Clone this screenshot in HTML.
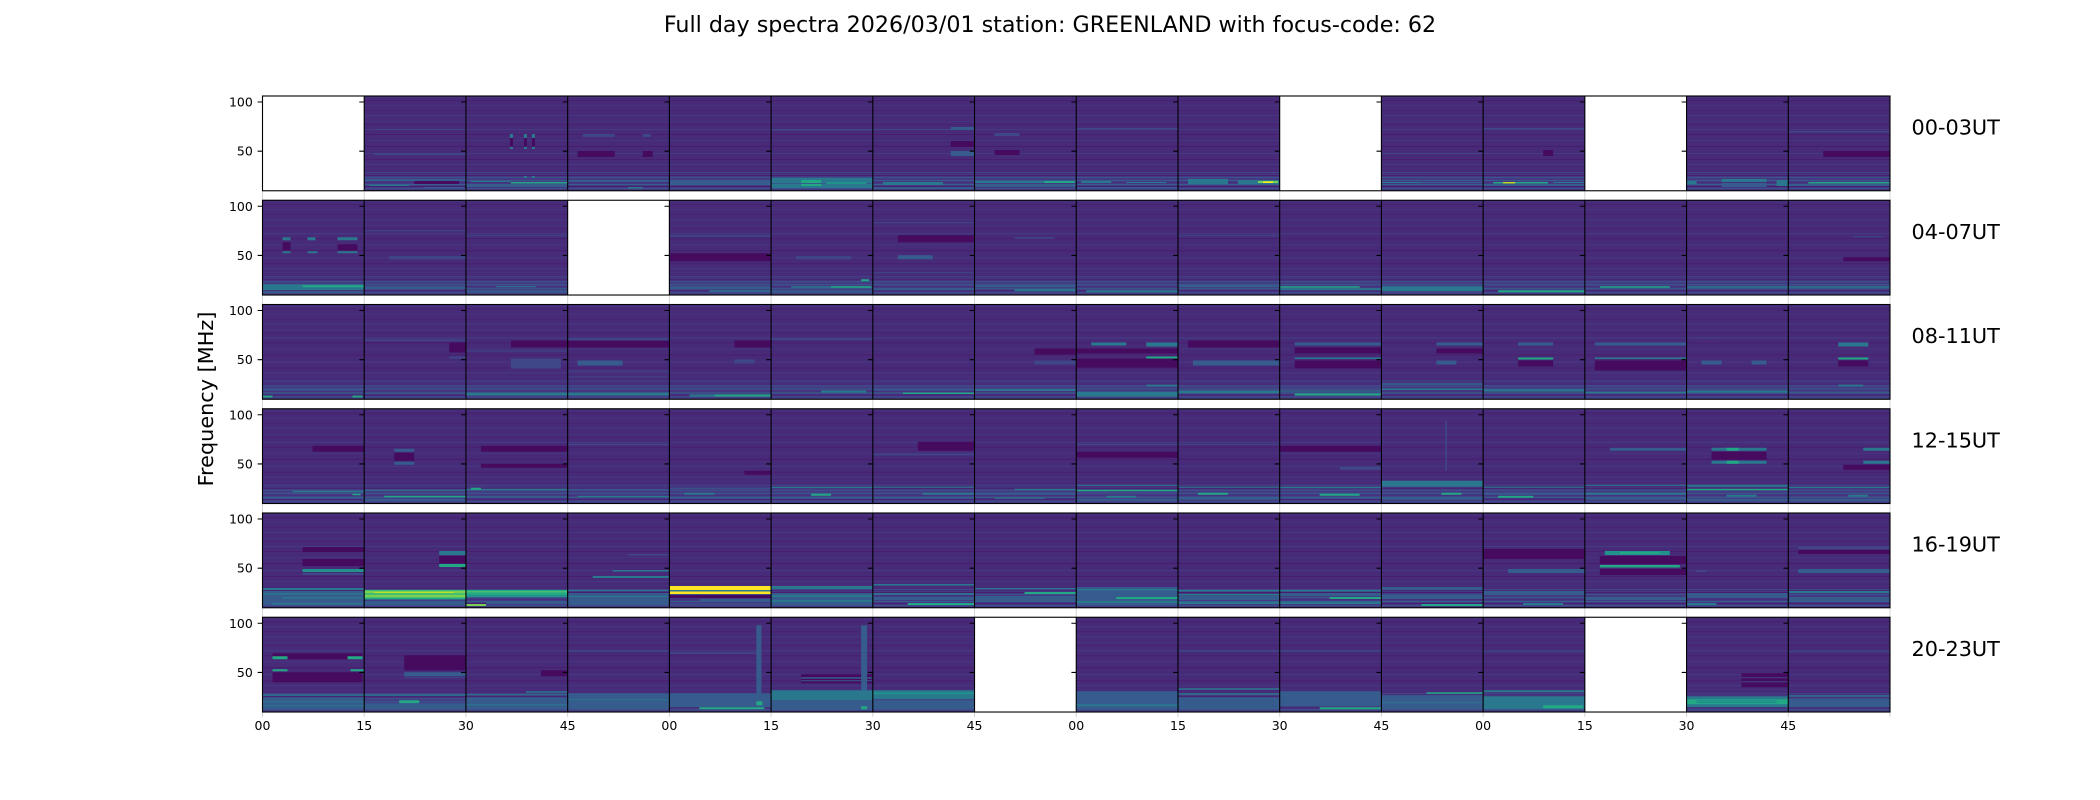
<!DOCTYPE html>
<html>
<head>
<meta charset="utf-8">
<style>
html,body{margin:0;padding:0;background:#fff;width:2100px;height:800px;overflow:hidden}
svg{display:block}
text{font-family:"DejaVu Sans","Liberation Sans",sans-serif;fill:#000}
.b{fill:url(#bg)}
.w{fill:#fff}
.d{fill:#460b5e}
.l{fill:#3f4788}
.m{fill:#365c8d}
.t{fill:#2a788e}
.u{fill:#21918c}
.v{fill:#22a884}
.g{fill:#44bf70}
.h{fill:#7ad151}
.y{fill:#bddf26}
.z{fill:#fde725}
</style>
</head>
<body>
<svg width="2100" height="800" viewBox="0 0 2100 800" xmlns="http://www.w3.org/2000/svg">
<defs>
<pattern id="bg" patternUnits="userSpaceOnUse" width="102" height="95">
<rect width="102" height="95" fill="#472b79"/>
<rect y="0" width="102" height="2" fill="#46307c"/>
<rect y="4" width="102" height="1" fill="#481f6f"/>
<rect y="9" width="102" height="1" fill="#45347f"/>
<rect y="14" width="102" height="1" fill="#482370"/>
<rect y="19" width="102" height="1" fill="#443882"/>
<rect y="25" width="102" height="1" fill="#45337f"/>
<rect y="28" width="102" height="1" fill="#48216f"/>
<rect y="33" width="102" height="1" fill="#433c84"/>
<rect y="38" width="102" height="1" fill="#481f6f"/>
<rect y="44" width="102" height="1" fill="#45347f"/>
<rect y="50" width="102" height="1" fill="#481c6d"/>
<rect y="57" width="102" height="1" fill="#443983"/>
<rect y="63" width="102" height="1" fill="#481f6f"/>
<rect y="68" width="102" height="1" fill="#443983"/>
<rect y="72" width="102" height="1" fill="#46307e"/>
<rect y="76" width="102" height="1" fill="#3f4788"/>
<rect y="78" width="102" height="17" fill="#443a83"/>
<rect y="79" width="102" height="1" fill="#481d6f"/>
<rect y="81" width="102" height="1" fill="#3b518b"/>
<rect y="84" width="102" height="1" fill="#38598c"/>
<rect y="86" width="102" height="1" fill="#46307e"/>
<rect y="88" width="102" height="1" fill="#35608d"/>
<rect y="90" width="102" height="1" fill="#481f70"/>
<rect y="92" width="102" height="1" fill="#3c4f8a"/>
</pattern>
</defs>

<text x="1050" y="32" font-size="22.2" text-anchor="middle">Full day spectra 2026/03/01 station: GREENLAND with focus-code: 62</text>
<text transform="translate(213,399) rotate(-90)" font-size="20.8" text-anchor="middle">Frequency [MHz]</text>

<!-- ROW 0 -->
<g transform="translate(262.5,96)"><rect class="w" width="101.72" height="94.77"/></g>
<g transform="translate(364.22,96)"><rect class="b" width="101.72" height="94.77"/>
<rect class="l" x="10" y="33" width="91" height="1"/><rect class="l" x="10" y="57" width="91" height="2"/>
<rect class="m" x="0" y="83" width="102" height="2"/><rect class="d" x="50" y="85" width="45" height="3"/><rect class="t" x="5" y="89" width="40" height="1"/><rect class="m" x="60" y="91" width="40" height="1"/></g>
<g transform="translate(465.94,96)"><rect class="b" width="101.72" height="94.77"/>
<rect class="d" x="44" y="42" width="3" height="8"/><rect class="d" x="58" y="42" width="3" height="8"/><rect class="d" x="66" y="42" width="3" height="8"/>
<rect class="t" x="44" y="38" width="3" height="4"/><rect class="t" x="58" y="38" width="3" height="4"/><rect class="t" x="66" y="38" width="3" height="4"/>
<rect class="t" x="44" y="51" width="3" height="2"/><rect class="t" x="58" y="51" width="3" height="2"/><rect class="t" x="66" y="51" width="3" height="2"/>
<rect class="t" x="58" y="80" width="3" height="2"/><rect class="t" x="66" y="80" width="3" height="2"/>
<rect class="v" x="45" y="86" width="57" height="1.5"/><rect class="t" x="5" y="85" width="40" height="1"/><rect class="m" x="0" y="89" width="102" height="2"/></g>
<g transform="translate(567.66,96)"><rect class="b" width="101.72" height="94.77"/>
<rect class="l" x="15" y="38" width="32" height="3"/><rect class="l" x="75" y="38" width="8" height="3"/>
<rect class="d" x="10" y="55" width="37" height="6"/><rect class="d" x="75" y="55" width="10" height="6"/>
<rect class="m" x="0" y="84" width="102" height="2"/><rect class="t" x="60" y="91" width="15" height="1.5"/></g>
<g transform="translate(669.38,96)"><rect class="b" width="101.72" height="94.77"/>
<rect class="m" x="0" y="85" width="102" height="3"/></g>
<g transform="translate(771.09,96)"><rect class="b" width="101.72" height="94.77"/>
<rect class="l" x="0" y="33" width="102" height="1.5"/>
<rect class="t" x="0" y="82" width="102" height="10"/><rect class="v" x="30" y="84" width="20" height="6"/><rect class="m" x="0" y="87" width="102" height="1"/><rect class="u" x="55" y="86" width="40" height="2"/></g>
<g transform="translate(872.81,96)"><rect class="b" width="101.72" height="94.77"/>
<rect class="l" x="0" y="33" width="80" height="1"/><rect class="m" x="78" y="31" width="24" height="3"/><rect class="m" x="78" y="55" width="24" height="5"/><rect class="d" x="78" y="45" width="24" height="6"/>
<rect class="t" x="10" y="86" width="60" height="3"/><rect class="m" x="0" y="91" width="102" height="2"/></g>
<g transform="translate(974.53,96)"><rect class="b" width="101.72" height="94.77"/>
<rect class="l" x="20" y="37" width="25" height="3"/><rect class="d" x="20" y="54" width="25" height="5"/>
<rect class="t" x="0" y="85" width="102" height="2"/><rect class="v" x="70" y="85" width="30" height="2"/><rect class="m" x="0" y="89" width="102" height="2"/></g>
<g transform="translate(1076.25,96)"><rect class="b" width="101.72" height="94.77"/>
<rect class="l" x="0" y="32" width="102" height="1.5"/>
<rect class="t" x="5" y="85" width="30" height="2"/><rect class="t" x="50" y="86" width="40" height="1"/><rect class="m" x="0" y="91" width="102" height="1"/></g>
<g transform="translate(1177.97,96)"><rect class="b" width="101.72" height="94.77"/>
<rect class="t" x="10" y="83" width="40" height="5"/><rect class="t" x="60" y="84" width="42" height="4"/><rect class="h" x="80" y="85" width="20" height="2"/><rect class="z" x="85" y="85.5" width="10" height="1.5"/></g>
<g transform="translate(1279.69,96)"><rect class="w" width="101.72" height="94.77"/></g>
<g transform="translate(1381.41,96)"><rect class="b" width="101.72" height="94.77"/>
<rect class="l" x="0" y="57" width="102" height="1"/>
<rect class="t" x="0" y="86" width="40" height="1"/><rect class="m" x="40" y="86" width="62" height="1"/></g>
<g transform="translate(1483.13,96)"><rect class="b" width="101.72" height="94.77"/>
<rect class="l" x="0" y="32" width="102" height="1.5"/><rect class="d" x="60" y="54" width="10" height="6"/>
<rect class="v" x="10" y="86" width="55" height="1.5"/><rect class="y" x="20" y="86" width="12" height="1.5"/><rect class="t" x="70" y="86" width="32" height="1"/><rect class="m" x="0" y="89" width="102" height="1"/></g>
<g transform="translate(1584.84,96)"><rect class="w" width="101.72" height="94.77"/></g>
<g transform="translate(1686.56,96)"><rect class="b" width="101.72" height="94.77"/>
<rect class="t" x="35" y="83" width="45" height="3"/><rect class="m" x="35" y="87" width="45" height="4"/><rect class="t" x="0" y="85" width="10" height="3"/><rect class="t" x="90" y="84" width="12" height="6"/></g>
<g transform="translate(1788.28,96)"><rect class="b" width="101.72" height="94.77"/>
<rect class="l" x="0" y="35" width="102" height="1.5"/><rect class="d" x="35" y="55" width="67" height="6"/>
<rect class="v" x="20" y="86" width="82" height="1.5"/><rect class="m" x="0" y="89" width="102" height="1"/></g>

<!-- ROW 1 -->
<g transform="translate(262.5,200.25)"><rect class="b" width="101.72" height="94.77"/>
<rect class="d" x="20" y="42" width="8" height="8"/><rect class="d" x="75" y="44" width="20" height="6"/>
<rect class="t" x="20" y="37" width="8" height="3"/><rect class="t" x="45" y="37" width="8" height="3"/><rect class="t" x="75" y="37" width="20" height="3"/>
<rect class="t" x="20" y="51" width="8" height="2"/><rect class="t" x="45" y="51" width="10" height="2"/><rect class="t" x="75" y="51" width="20" height="2"/>
<rect class="t" x="0" y="84" width="102" height="6"/><rect class="v" x="40" y="85" width="62" height="2"/><rect class="m" x="0" y="91" width="102" height="2"/></g>
<g transform="translate(364.22,200.25)"><rect class="b" width="101.72" height="94.77"/>
<rect class="l" x="0" y="30" width="102" height="1"/><rect class="l" x="25" y="56" width="77" height="3"/>
<rect class="m" x="0" y="86" width="102" height="3"/></g>
<g transform="translate(465.94,200.25)"><rect class="b" width="101.72" height="94.77"/>
<rect class="l" x="0" y="35" width="102" height="1"/>
<rect class="t" x="30" y="86" width="40" height="1"/><rect class="m" x="0" y="90" width="102" height="2"/></g>
<g transform="translate(567.66,200.25)"><rect class="w" width="101.72" height="94.77"/></g>
<g transform="translate(669.38,200.25)"><rect class="b" width="101.72" height="94.77"/>
<rect class="l" x="0" y="35" width="102" height="1.5"/><rect class="d" x="0" y="53" width="102" height="8"/>
<rect class="m" x="0" y="86" width="102" height="2"/><rect class="t" x="40" y="90" width="62" height="1.5"/></g>
<g transform="translate(771.09,200.25)"><rect class="b" width="101.72" height="94.77"/>
<rect class="l" x="25" y="56" width="55" height="3"/>
<rect class="t" x="20" y="86" width="82" height="1.5"/><rect class="v" x="60" y="86" width="40" height="1.5"/><rect class="v" x="90" y="79" width="8" height="2"/><rect class="m" x="0" y="90" width="102" height="2"/></g>
<g transform="translate(872.81,200.25)"><rect class="b" width="101.72" height="94.77"/>
<rect class="l" x="0" y="22" width="102" height="1"/><rect class="d" x="25" y="35" width="77" height="7"/><rect class="m" x="25" y="55" width="35" height="4"/><rect class="l" x="0" y="72" width="102" height="1"/>
<rect class="m" x="0" y="88" width="102" height="2"/></g>
<g transform="translate(974.53,200.25)"><rect class="b" width="101.72" height="94.77"/>
<rect class="l" x="40" y="37" width="40" height="1.5"/>
<rect class="m" x="0" y="85" width="102" height="2"/><rect class="t" x="40" y="89" width="62" height="2"/></g>
<g transform="translate(1076.25,200.25)"><rect class="b" width="101.72" height="94.77"/>
<rect class="t" x="10" y="90" width="92" height="2"/></g>
<g transform="translate(1177.97,200.25)"><rect class="b" width="101.72" height="94.77"/>
<rect class="l" x="0" y="35" width="102" height="1"/><rect class="m" x="0" y="84" width="102" height="3"/></g>
<g transform="translate(1279.69,200.25)"><rect class="b" width="101.72" height="94.77"/>
<rect class="v" x="0" y="86" width="80" height="1.5"/><rect class="t" x="0" y="88" width="102" height="2"/></g>
<g transform="translate(1381.41,200.25)"><rect class="b" width="101.72" height="94.77"/>
<rect class="t" x="0" y="86" width="102" height="5"/></g>
<g transform="translate(1483.13,200.25)"><rect class="b" width="101.72" height="94.77"/>
<rect class="v" x="15" y="90" width="87" height="2"/></g>
<g transform="translate(1584.84,200.25)"><rect class="b" width="101.72" height="94.77"/>
<rect class="v" x="15" y="86" width="70" height="1.5"/></g>
<g transform="translate(1686.56,200.25)"><rect class="b" width="101.72" height="94.77"/>
<rect class="t" x="0" y="86" width="102" height="1.5"/></g>
<g transform="translate(1788.28,200.25)"><rect class="b" width="101.72" height="94.77"/>
<rect class="d" x="55" y="57" width="47" height="4"/><rect class="l" x="65" y="36" width="30" height="1"/><rect class="t" x="0" y="86" width="102" height="1.5"/></g>

<!-- ROW 2 -->
<g transform="translate(262.5,304.5)"><rect class="b" width="101.72" height="94.77"/>
<rect class="m" x="0" y="85" width="102" height="1"/><rect class="v" x="0" y="91" width="10" height="2"/><rect class="v" x="90" y="91" width="10" height="2"/></g>
<g transform="translate(364.22,304.5)"><rect class="b" width="101.72" height="94.77"/>
<rect class="l" x="0" y="35" width="102" height="1.5"/><rect class="d" x="85" y="38" width="17" height="10"/><rect class="l" x="85" y="52" width="17" height="2"/>
<rect class="m" x="0" y="88" width="102" height="1.5"/></g>
<g transform="translate(465.94,304.5)"><rect class="b" width="101.72" height="94.77"/>
<rect class="d" x="45" y="36" width="57" height="7"/><rect class="l" x="45" y="54" width="50" height="10"/><rect class="l" x="0" y="46" width="102" height="1"/>
<rect class="t" x="0" y="88" width="102" height="3"/></g>
<g transform="translate(567.66,304.5)"><rect class="b" width="101.72" height="94.77"/>
<rect class="l" x="0" y="34" width="102" height="2"/><rect class="d" x="0" y="36" width="102" height="7"/><rect class="m" x="10" y="56" width="45" height="5"/><rect class="l" x="0" y="66" width="102" height="1"/><rect class="l" x="0" y="72" width="102" height="1"/>
<rect class="t" x="0" y="88" width="102" height="3"/></g>
<g transform="translate(669.38,304.5)"><rect class="b" width="101.72" height="94.77"/>
<rect class="d" x="65" y="36" width="37" height="7"/><rect class="l" x="65" y="55" width="20" height="4"/>
<rect class="t" x="20" y="90" width="82" height="2"/><rect class="v" x="45" y="90" width="57" height="2"/></g>
<g transform="translate(771.09,304.5)"><rect class="b" width="101.72" height="94.77"/>
<rect class="l" x="0" y="34" width="102" height="1.5"/><rect class="t" x="50" y="86" width="45" height="2"/></g>
<g transform="translate(872.81,304.5)"><rect class="b" width="101.72" height="94.77"/>
<rect class="m" x="0" y="85" width="102" height="1"/><rect class="v" x="30" y="88" width="72" height="1.5"/></g>
<g transform="translate(974.53,304.5)"><rect class="b" width="101.72" height="94.77"/>
<rect class="d" x="60" y="44" width="42" height="6"/><rect class="l" x="60" y="56" width="42" height="4"/>
<rect class="t" x="0" y="85" width="102" height="1.5"/></g>
<g transform="translate(1076.25,304.5)"><rect class="b" width="101.72" height="94.77"/>
<rect class="d" x="0" y="44" width="102" height="5"/><rect class="d" x="0" y="54" width="102" height="9"/>
<rect class="t" x="15" y="38" width="35" height="3"/><rect class="t" x="70" y="38" width="32" height="4"/><rect class="v" x="70" y="52" width="32" height="2"/><rect class="t" x="70" y="80" width="32" height="2"/>
<rect class="t" x="0" y="87" width="102" height="5"/></g>
<g transform="translate(1177.97,304.5)"><rect class="b" width="101.72" height="94.77"/>
<rect class="d" x="10" y="36" width="92" height="7"/><rect class="m" x="15" y="56" width="87" height="5"/>
<rect class="t" x="0" y="86" width="102" height="3"/></g>
<g transform="translate(1279.69,304.5)"><rect class="b" width="101.72" height="94.77"/>
<rect class="d" x="15" y="43" width="87" height="6"/><rect class="d" x="15" y="56" width="87" height="8"/>
<rect class="m" x="15" y="38" width="87" height="3"/><rect class="t" x="15" y="53" width="87" height="1.5"/>
<rect class="t" x="0" y="86" width="102" height="1"/><rect class="v" x="15" y="89" width="87" height="2"/></g>
<g transform="translate(1381.41,304.5)"><rect class="b" width="101.72" height="94.77"/>
<rect class="d" x="55" y="44" width="47" height="5"/><rect class="m" x="55" y="38" width="47" height="3"/><rect class="m" x="55" y="56" width="20" height="4"/>
<rect class="t" x="0" y="79" width="102" height="1"/><rect class="t" x="0" y="84" width="102" height="1.5"/></g>
<g transform="translate(1483.13,304.5)"><rect class="b" width="101.72" height="94.77"/>
<rect class="d" x="35" y="56" width="35" height="6"/><rect class="m" x="35" y="38" width="35" height="3"/><rect class="v" x="35" y="53" width="35" height="2"/>
<rect class="t" x="0" y="85" width="102" height="2"/></g>
<g transform="translate(1584.84,304.5)"><rect class="b" width="101.72" height="94.77"/>
<rect class="d" x="10" y="56" width="92" height="10"/><rect class="m" x="10" y="38" width="92" height="3"/><rect class="t" x="10" y="53" width="92" height="1.5"/>
<rect class="t" x="0" y="87" width="102" height="2"/></g>
<g transform="translate(1686.56,304.5)"><rect class="b" width="101.72" height="94.77"/>
<rect class="l" x="10" y="33" width="20" height="1"/><rect class="m" x="15" y="56" width="20" height="4"/><rect class="m" x="65" y="56" width="15" height="4"/>
<rect class="t" x="0" y="86" width="102" height="2"/></g>
<g transform="translate(1788.28,304.5)"><rect class="b" width="101.72" height="94.77"/>
<rect class="d" x="50" y="56" width="30" height="6"/><rect class="t" x="50" y="38" width="30" height="4"/><rect class="v" x="50" y="53" width="30" height="2"/><rect class="t" x="50" y="80" width="25" height="2"/>
<rect class="m" x="0" y="87" width="102" height="2"/></g>

<!-- ROW 3 -->
<g transform="translate(262.5,408.75)"><rect class="b" width="101.72" height="94.77"/>
<rect class="d" x="50" y="37" width="52" height="6"/>
<rect class="t" x="30" y="82" width="72" height="1.5"/><rect class="v" x="90" y="85" width="8" height="1.5"/><rect class="m" x="0" y="88" width="102" height="2"/></g>
<g transform="translate(364.22,408.75)"><rect class="b" width="101.72" height="94.77"/>
<rect class="d" x="30" y="44" width="20" height="8"/><rect class="m" x="30" y="40" width="20" height="3"/><rect class="m" x="30" y="53" width="20" height="3"/>
<rect class="t" x="0" y="81" width="102" height="1"/><rect class="v" x="20" y="87" width="82" height="1.5"/><rect class="m" x="0" y="90" width="102" height="2"/></g>
<g transform="translate(465.94,408.75)"><rect class="b" width="101.72" height="94.77"/>
<rect class="d" x="15" y="37" width="87" height="6"/><rect class="d" x="15" y="55" width="87" height="4"/>
<rect class="t" x="0" y="80" width="102" height="1.5"/><rect class="v" x="5" y="79" width="10" height="2"/><rect class="m" x="0" y="87" width="102" height="2"/></g>
<g transform="translate(567.66,408.75)"><rect class="b" width="101.72" height="94.77"/>
<rect class="l" x="0" y="35" width="102" height="1.5"/>
<rect class="m" x="0" y="80" width="102" height="1"/><rect class="t" x="10" y="87" width="92" height="1.5"/></g>
<g transform="translate(669.38,408.75)"><rect class="b" width="101.72" height="94.77"/>
<rect class="d" x="75" y="62" width="27" height="4"/>
<rect class="m" x="0" y="79" width="102" height="1"/><rect class="t" x="15" y="84" width="30" height="2"/><rect class="m" x="0" y="88" width="102" height="2"/></g>
<g transform="translate(771.09,408.75)"><rect class="b" width="101.72" height="94.77"/>
<rect class="t" x="0" y="78" width="102" height="1.5"/><rect class="v" x="40" y="85" width="20" height="2"/><rect class="m" x="0" y="88" width="102" height="2"/></g>
<g transform="translate(872.81,408.75)"><rect class="b" width="101.72" height="94.77"/>
<rect class="d" x="45" y="33" width="57" height="9"/><rect class="l" x="0" y="45" width="102" height="1.5"/>
<rect class="t" x="0" y="78" width="102" height="1"/><rect class="t" x="50" y="84" width="52" height="2"/><rect class="m" x="0" y="88" width="102" height="2"/></g>
<g transform="translate(974.53,408.75)"><rect class="b" width="101.72" height="94.77"/>
<rect class="t" x="40" y="80" width="62" height="1.5"/><rect class="m" x="0" y="84" width="102" height="2"/><rect class="t" x="20" y="89" width="50" height="1"/></g>
<g transform="translate(1076.25,408.75)"><rect class="b" width="101.72" height="94.77"/>
<rect class="l" x="0" y="35" width="102" height="1.5"/><rect class="d" x="0" y="43" width="102" height="6"/>
<rect class="t" x="0" y="76" width="102" height="1"/><rect class="v" x="0" y="81" width="102" height="1.5"/><rect class="t" x="30" y="87" width="30" height="2"/><rect class="m" x="0" y="90" width="102" height="2"/></g>
<g transform="translate(1177.97,408.75)"><rect class="b" width="101.72" height="94.77"/>
<rect class="l" x="0" y="35" width="102" height="1"/>
<rect class="t" x="0" y="78" width="102" height="1"/><rect class="v" x="20" y="84" width="30" height="2"/><rect class="m" x="0" y="88" width="102" height="3"/></g>
<g transform="translate(1279.69,408.75)"><rect class="b" width="101.72" height="94.77"/>
<rect class="d" x="0" y="37" width="102" height="6"/><rect class="l" x="60" y="58" width="42" height="3"/>
<rect class="t" x="0" y="78" width="102" height="1.5"/><rect class="v" x="40" y="85" width="40" height="2"/><rect class="m" x="0" y="88" width="102" height="2"/></g>
<g transform="translate(1381.41,408.75)"><rect class="b" width="101.72" height="94.77"/>
<rect class="l" x="64" y="12" width="1.5" height="50"/>
<rect class="t" x="0" y="72" width="102" height="6"/><rect class="v" x="60" y="84" width="20" height="2"/><rect class="m" x="0" y="88" width="102" height="3"/></g>
<g transform="translate(1483.13,408.75)"><rect class="b" width="101.72" height="94.77"/>
<rect class="t" x="0" y="78" width="102" height="1"/><rect class="m" x="0" y="84" width="102" height="2"/><rect class="v" x="15" y="87" width="35" height="2"/></g>
<g transform="translate(1584.84,408.75)"><rect class="b" width="101.72" height="94.77"/>
<rect class="m" x="25" y="39" width="77" height="3"/>
<rect class="t" x="0" y="76" width="102" height="1"/><rect class="t" x="0" y="84" width="102" height="2"/><rect class="m" x="0" y="89" width="102" height="2"/></g>
<g transform="translate(1686.56,408.75)"><rect class="b" width="101.72" height="94.77"/>
<rect class="d" x="25" y="43" width="55" height="8"/>
<rect class="t" x="25" y="39" width="55" height="3"/><rect class="v" x="40" y="39" width="12" height="3"/><rect class="t" x="25" y="52" width="55" height="3"/><rect class="v" x="40" y="52" width="12" height="3"/>
<rect class="t" x="0" y="76" width="102" height="2"/><rect class="v" x="0" y="80" width="102" height="1.5"/><rect class="t" x="40" y="86" width="30" height="2"/><rect class="m" x="0" y="90" width="102" height="2"/></g>
<g transform="translate(1788.28,408.75)"><rect class="b" width="101.72" height="94.77"/>
<rect class="d" x="55" y="56" width="47" height="5"/><rect class="t" x="75" y="39" width="27" height="3"/><rect class="t" x="75" y="52" width="27" height="3"/>
<rect class="t" x="0" y="78" width="102" height="1.5"/><rect class="t" x="60" y="86" width="20" height="2"/><rect class="m" x="0" y="90" width="102" height="2"/></g>

<!-- ROW 4 -->
<g transform="translate(262.5,513)"><rect class="b" width="101.72" height="94.77"/>
<rect class="d" x="40" y="34" width="62" height="5"/><rect class="d" x="40" y="46" width="62" height="7"/><rect class="u" x="40" y="56" width="62" height="3"/><rect class="l" x="40" y="60" width="62" height="2"/>
<rect class="t" x="0" y="75" width="102" height="2"/><rect class="m" x="0" y="78" width="102" height="14"/><rect class="t" x="0" y="80" width="102" height="1.5"/><rect class="t" x="20" y="84" width="80" height="1.5"/><rect class="t" x="10" y="90" width="90" height="1.5"/></g>
<g transform="translate(364.22,513)"><rect class="b" width="101.72" height="94.77"/>
<rect class="d" x="75" y="43" width="27" height="7"/><rect class="t" x="75" y="38" width="27" height="4"/><rect class="v" x="75" y="51" width="27" height="3"/>
<rect class="g" x="0" y="77" width="102" height="9"/><rect class="h" x="0" y="78" width="102" height="2"/><rect class="y" x="10" y="79" width="80" height="1"/><rect class="h" x="0" y="82" width="102" height="2"/><rect class="v" x="0" y="85" width="102" height="1.5"/><rect class="m" x="0" y="88" width="102" height="4"/></g>
<g transform="translate(465.94,513)"><rect class="b" width="101.72" height="94.77"/>
<rect class="v" x="0" y="77" width="102" height="7"/><rect class="g" x="0" y="78" width="102" height="1.5"/><rect class="u" x="0" y="82" width="102" height="2"/><rect class="m" x="20" y="88" width="82" height="3"/><rect class="h" x="0" y="91" width="20" height="2"/></g>
<g transform="translate(567.66,513)"><rect class="b" width="101.72" height="94.77"/>
<rect class="l" x="60" y="41" width="42" height="1.5"/><rect class="t" x="45" y="57" width="57" height="1.5"/><rect class="t" x="25" y="63" width="77" height="2"/>
<rect class="t" x="0" y="77" width="102" height="1"/><rect class="m" x="0" y="80" width="102" height="12"/><rect class="t" x="0" y="83" width="102" height="1"/></g>
<g transform="translate(669.38,513)"><rect class="b" width="101.72" height="94.77"/>
<rect class="z" x="0" y="73" width="102" height="4"/><rect class="t" x="0" y="77" width="102" height="1.5"/><rect class="z" x="0" y="78.5" width="102" height="2.5"/>
<rect class="d" x="0" y="82" width="102" height="3"/><rect class="m" x="30" y="86" width="72" height="3"/><rect class="l" x="0" y="90" width="102" height="3"/></g>
<g transform="translate(771.09,513)"><rect class="b" width="101.72" height="94.77"/>
<rect class="t" x="0" y="73" width="102" height="3"/><rect class="m" x="0" y="80" width="102" height="12"/><rect class="t" x="0" y="82" width="102" height="2"/><rect class="t" x="0" y="87" width="102" height="2"/></g>
<g transform="translate(872.81,513)"><rect class="b" width="101.72" height="94.77"/>
<rect class="t" x="0" y="71" width="102" height="1.5"/><rect class="t" x="0" y="80" width="102" height="1.5"/><rect class="m" x="0" y="84" width="102" height="3"/><rect class="v" x="35" y="90" width="67" height="2"/></g>
<g transform="translate(974.53,513)"><rect class="b" width="101.72" height="94.77"/>
<rect class="t" x="0" y="75" width="102" height="1"/><rect class="v" x="50" y="79" width="52" height="2"/><rect class="m" x="0" y="83" width="102" height="5"/></g>
<g transform="translate(1076.25,513)"><rect class="b" width="101.72" height="94.77"/>
<rect class="m" x="0" y="74" width="102" height="18"/><rect class="t" x="0" y="76" width="102" height="1.5"/><rect class="v" x="40" y="84" width="62" height="2"/><rect class="t" x="0" y="88" width="102" height="2"/></g>
<g transform="translate(1177.97,513)"><rect class="b" width="101.72" height="94.77"/>
<rect class="t" x="0" y="77" width="102" height="1.5"/><rect class="t" x="0" y="81" width="102" height="1.5"/><rect class="m" x="0" y="83" width="102" height="4"/><rect class="t" x="0" y="89" width="102" height="2"/></g>
<g transform="translate(1279.69,513)"><rect class="b" width="101.72" height="94.77"/>
<rect class="t" x="0" y="77" width="102" height="1.5"/><rect class="m" x="0" y="80" width="102" height="3"/><rect class="v" x="50" y="84" width="52" height="2"/><rect class="t" x="0" y="89" width="102" height="2"/></g>
<g transform="translate(1381.41,513)"><rect class="b" width="101.72" height="94.77"/>
<rect class="m" x="0" y="74" width="102" height="3"/><rect class="m" x="0" y="82" width="102" height="4"/><rect class="v" x="40" y="91" width="62" height="2"/></g>
<g transform="translate(1483.13,513)"><rect class="b" width="101.72" height="94.77"/>
<rect class="d" x="0" y="36" width="102" height="10"/><rect class="m" x="25" y="56" width="77" height="4"/>
<rect class="m" x="0" y="78" width="102" height="4"/><rect class="t" x="40" y="90" width="40" height="2"/></g>
<g transform="translate(1584.84,513)"><rect class="b" width="101.72" height="94.77"/>
<rect class="d" x="15" y="43" width="87" height="8"/><rect class="d" x="15" y="56" width="87" height="6"/>
<rect class="u" x="20" y="38" width="65" height="4"/><rect class="v" x="35" y="39" width="40" height="2"/><rect class="v" x="15" y="52" width="80" height="2.5"/>
<rect class="m" x="0" y="84" width="102" height="3"/></g>
<g transform="translate(1686.56,513)"><rect class="b" width="101.72" height="94.77"/>
<rect class="l" x="10" y="57" width="10" height="2"/><rect class="m" x="0" y="80" width="102" height="4"/><rect class="t" x="0" y="90" width="30" height="2"/></g>
<g transform="translate(1788.28,513)"><rect class="b" width="101.72" height="94.77"/>
<rect class="l" x="10" y="34" width="92" height="2"/><rect class="d" x="10" y="37" width="92" height="4"/><rect class="m" x="10" y="56" width="92" height="4"/>
<rect class="t" x="0" y="78" width="102" height="2"/><rect class="m" x="0" y="85" width="102" height="4"/></g>

<!-- ROW 5 -->
<g transform="translate(262.5,617.25)"><rect class="b" width="101.72" height="94.77"/>
<rect class="d" x="10" y="36" width="90" height="6"/><rect class="d" x="10" y="55" width="90" height="10"/>
<rect class="v" x="10" y="39" width="15" height="3"/><rect class="v" x="85" y="39" width="15" height="3"/><rect class="v" x="10" y="52" width="15" height="2"/><rect class="v" x="88" y="52" width="14" height="2"/>
<rect class="t" x="0" y="77" width="102" height="1.5"/><rect class="m" x="0" y="80" width="102" height="12"/><rect class="t" x="0" y="84" width="102" height="1"/><rect class="t" x="0" y="88" width="102" height="1"/></g>
<g transform="translate(364.22,617.25)"><rect class="b" width="101.72" height="94.77"/>
<rect class="d" x="40" y="38" width="62" height="15"/><rect class="m" x="40" y="55" width="62" height="4"/><rect class="l" x="40" y="60" width="62" height="1"/>
<rect class="t" x="0" y="77" width="102" height="1.5"/><rect class="v" x="35" y="83" width="20" height="3"/><rect class="m" x="0" y="86" width="102" height="6"/></g>
<g transform="translate(465.94,617.25)"><rect class="b" width="101.72" height="94.77"/>
<rect class="d" x="75" y="53" width="27" height="6"/>
<rect class="t" x="60" y="74" width="42" height="1.5"/><rect class="t" x="0" y="77" width="102" height="1"/><rect class="m" x="0" y="80" width="102" height="12"/><rect class="t" x="0" y="87" width="102" height="1"/></g>
<g transform="translate(567.66,617.25)"><rect class="b" width="101.72" height="94.77"/>
<rect class="l" x="0" y="33" width="102" height="1.5"/><rect class="m" x="0" y="76" width="102" height="16"/><rect class="t" x="0" y="82" width="102" height="1"/></g>
<g transform="translate(669.38,617.25)"><rect class="b" width="101.72" height="94.77"/>
<rect class="m" x="87" y="8" width="5" height="82"/><rect class="l" x="0" y="35" width="87" height="1.5"/>
<rect class="m" x="0" y="76" width="102" height="14"/><rect class="v" x="30" y="90" width="65" height="2"/><rect class="v" x="87" y="84" width="6" height="4"/></g>
<g transform="translate(771.09,617.25)"><rect class="b" width="101.72" height="94.77"/>
<rect class="d" x="30" y="57" width="72" height="9"/><rect class="m" x="30" y="60" width="72" height="1.5"/><rect class="m" x="30" y="63" width="72" height="1"/><rect class="m" x="90" y="8" width="6" height="65"/>
<rect class="t" x="0" y="73" width="102" height="10"/><rect class="m" x="0" y="83" width="102" height="10"/><rect class="v" x="90" y="89" width="6" height="3"/></g>
<g transform="translate(872.81,617.25)"><rect class="b" width="101.72" height="94.77"/>
<rect class="t" x="0" y="73" width="102" height="9"/><rect class="u" x="0" y="75" width="102" height="2"/><rect class="m" x="0" y="83" width="102" height="9"/></g>
<g transform="translate(974.53,617.25)"><rect class="w" width="101.72" height="94.77"/></g>
<g transform="translate(1076.25,617.25)"><rect class="b" width="101.72" height="94.77"/>
<rect class="m" x="0" y="74" width="102" height="18"/><rect class="t" x="0" y="87" width="102" height="2"/></g>
<g transform="translate(1177.97,617.25)"><rect class="b" width="101.72" height="94.77"/>
<rect class="l" x="0" y="33" width="102" height="1.5"/><rect class="t" x="0" y="71" width="102" height="1.5"/><rect class="t" x="0" y="76" width="102" height="1.5"/><rect class="m" x="0" y="80" width="102" height="12"/></g>
<g transform="translate(1279.69,617.25)"><rect class="b" width="101.72" height="94.77"/>
<rect class="l" x="0" y="33" width="102" height="1.5"/><rect class="m" x="0" y="74" width="102" height="14"/><rect class="v" x="40" y="90" width="62" height="2"/></g>
<g transform="translate(1381.41,617.25)"><rect class="b" width="101.72" height="94.77"/>
<rect class="v" x="45" y="75" width="57" height="1.5"/><rect class="m" x="0" y="78" width="102" height="14"/><rect class="t" x="0" y="85" width="102" height="1"/></g>
<g transform="translate(1483.13,617.25)"><rect class="b" width="101.72" height="94.77"/>
<rect class="l" x="0" y="34" width="102" height="1"/><rect class="t" x="0" y="73" width="102" height="2"/><rect class="t" x="0" y="79" width="102" height="13"/><rect class="v" x="60" y="88" width="40" height="3"/></g>
<g transform="translate(1584.84,617.25)"><rect class="w" width="101.72" height="94.77"/></g>
<g transform="translate(1686.56,617.25)"><rect class="b" width="101.72" height="94.77"/>
<rect class="d" x="55" y="56" width="47" height="14"/><rect class="l" x="55" y="60" width="47" height="1"/><rect class="l" x="55" y="64" width="47" height="1"/>
<rect class="t" x="0" y="79" width="102" height="11"/><rect class="v" x="0" y="82" width="102" height="5"/><rect class="u" x="10" y="83" width="80" height="3"/></g>
<g transform="translate(1788.28,617.25)"><rect class="b" width="101.72" height="94.77"/>
<rect class="l" x="0" y="34" width="102" height="1"/><rect class="t" x="0" y="78" width="102" height="1.5"/><rect class="m" x="0" y="82" width="102" height="8"/></g>

<!-- grey x ticks in gaps -->
<g stroke="#d4d4d4" stroke-width="1">
<path d="M262.5 190.8V200.2M364.22 190.8V200.2M465.94 190.8V200.2M567.66 190.8V200.2M669.38 190.8V200.2M771.09 190.8V200.2M872.81 190.8V200.2M974.53 190.8V200.2M1076.25 190.8V200.2M1177.97 190.8V200.2M1279.69 190.8V200.2M1381.41 190.8V200.2M1483.13 190.8V200.2M1584.84 190.8V200.2M1686.56 190.8V200.2M1788.28 190.8V200.2M1890 190.8V200.2"/>
<path d="M262.5 295V304.5M364.22 295V304.5M465.94 295V304.5M567.66 295V304.5M669.38 295V304.5M771.09 295V304.5M872.81 295V304.5M974.53 295V304.5M1076.25 295V304.5M1177.97 295V304.5M1279.69 295V304.5M1381.41 295V304.5M1483.13 295V304.5M1584.84 295V304.5M1686.56 295V304.5M1788.28 295V304.5M1890 295V304.5"/>
<path d="M262.5 399.3V408.7M364.22 399.3V408.7M465.94 399.3V408.7M567.66 399.3V408.7M669.38 399.3V408.7M771.09 399.3V408.7M872.81 399.3V408.7M974.53 399.3V408.7M1076.25 399.3V408.7M1177.97 399.3V408.7M1279.69 399.3V408.7M1381.41 399.3V408.7M1483.13 399.3V408.7M1584.84 399.3V408.7M1686.56 399.3V408.7M1788.28 399.3V408.7M1890 399.3V408.7"/>
<path d="M262.5 503.5V513M364.22 503.5V513M465.94 503.5V513M567.66 503.5V513M669.38 503.5V513M771.09 503.5V513M872.81 503.5V513M974.53 503.5V513M1076.25 503.5V513M1177.97 503.5V513M1279.69 503.5V513M1381.41 503.5V513M1483.13 503.5V513M1584.84 503.5V513M1686.56 503.5V513M1788.28 503.5V513M1890 503.5V513"/>
<path d="M262.5 607.8V617.2M364.22 607.8V617.2M465.94 607.8V617.2M567.66 607.8V617.2M669.38 607.8V617.2M771.09 607.8V617.2M872.81 607.8V617.2M974.53 607.8V617.2M1076.25 607.8V617.2M1177.97 607.8V617.2M1279.69 607.8V617.2M1381.41 607.8V617.2M1483.13 607.8V617.2M1584.84 607.8V617.2M1686.56 607.8V617.2M1788.28 607.8V617.2M1890 607.8V617.2"/>
<path d="M262.5 712V717M364.22 712V717M465.94 712V717M567.66 712V717M669.38 712V717M771.09 712V717M872.81 712V717M974.53 712V717M1076.25 712V717M1177.97 712V717M1279.69 712V717M1381.41 712V717M1483.13 712V717M1584.84 712V717M1686.56 712V717M1788.28 712V717M1890 712V717"/>
</g>

<!-- panel frames -->
<g fill="none" stroke="#000" stroke-width="1.1">
<rect x="262.5" y="96" width="1627.5" height="94.77"/>
<rect x="262.5" y="200.25" width="1627.5" height="94.77"/>
<rect x="262.5" y="304.5" width="1627.5" height="94.77"/>
<rect x="262.5" y="408.75" width="1627.5" height="94.77"/>
<rect x="262.5" y="513" width="1627.5" height="94.77"/>
<rect x="262.5" y="617.25" width="1627.5" height="94.77"/>
<path d="M364.22 96V190.77M465.94 96V190.77M567.66 96V190.77M669.38 96V190.77M771.09 96V190.77M872.81 96V190.77M974.53 96V190.77M1076.25 96V190.77M1177.97 96V190.77M1279.69 96V190.77M1381.41 96V190.77M1483.13 96V190.77M1584.84 96V190.77M1686.56 96V190.77M1788.28 96V190.77"/>
<path d="M364.22 200.25V295M465.94 200.25V295M567.66 200.25V295M669.38 200.25V295M771.09 200.25V295M872.81 200.25V295M974.53 200.25V295M1076.25 200.25V295M1177.97 200.25V295M1279.69 200.25V295M1381.41 200.25V295M1483.13 200.25V295M1584.84 200.25V295M1686.56 200.25V295M1788.28 200.25V295"/>
<path d="M364.22 304.5V399.27M465.94 304.5V399.27M567.66 304.5V399.27M669.38 304.5V399.27M771.09 304.5V399.27M872.81 304.5V399.27M974.53 304.5V399.27M1076.25 304.5V399.27M1177.97 304.5V399.27M1279.69 304.5V399.27M1381.41 304.5V399.27M1483.13 304.5V399.27M1584.84 304.5V399.27M1686.56 304.5V399.27M1788.28 304.5V399.27"/>
<path d="M364.22 408.75V503.5M465.94 408.75V503.5M567.66 408.75V503.5M669.38 408.75V503.5M771.09 408.75V503.5M872.81 408.75V503.5M974.53 408.75V503.5M1076.25 408.75V503.5M1177.97 408.75V503.5M1279.69 408.75V503.5M1381.41 408.75V503.5M1483.13 408.75V503.5M1584.84 408.75V503.5M1686.56 408.75V503.5M1788.28 408.75V503.5"/>
<path d="M364.22 513V607.77M465.94 513V607.77M567.66 513V607.77M669.38 513V607.77M771.09 513V607.77M872.81 513V607.77M974.53 513V607.77M1076.25 513V607.77M1177.97 513V607.77M1279.69 513V607.77M1381.41 513V607.77M1483.13 513V607.77M1584.84 513V607.77M1686.56 513V607.77M1788.28 513V607.77"/>
<path d="M364.22 617.25V712M465.94 617.25V712M567.66 617.25V712M669.38 617.25V712M771.09 617.25V712M872.81 617.25V712M974.53 617.25V712M1076.25 617.25V712M1177.97 617.25V712M1279.69 617.25V712M1381.41 617.25V712M1483.13 617.25V712M1584.84 617.25V712M1686.56 617.25V712M1788.28 617.25V712"/>
</g>

<!-- y ticks (left of every panel) -->
<g stroke="#000" stroke-width="1.1">
<path d="M257.6 102H262.5M257.6 151.2H262.5M359.3 102H364.2M359.3 151.2H364.2M461 102H465.9M461 151.2H465.9M562.8 102H567.7M562.8 151.2H567.7M664.5 102H669.4M664.5 151.2H669.4M766.2 102H771.1M766.2 151.2H771.1M867.9 102H872.8M867.9 151.2H872.8M969.7 102H974.5M969.7 151.2H974.5M1071.4 102H1076.3M1071.4 151.2H1076.3M1173.1 102H1178M1173.1 151.2H1178M1274.8 102H1279.7M1274.8 151.2H1279.7M1376.5 102H1381.4M1376.5 151.2H1381.4M1478.3 102H1483.1M1478.3 151.2H1483.1M1580 102H1584.8M1580 151.2H1584.8M1681.7 102H1686.6M1681.7 151.2H1686.6M1783.4 102H1788.3M1783.4 151.2H1788.3"/>
<path transform="translate(0,104.25)" d="M257.6 102H262.5M257.6 151.2H262.5M359.3 102H364.2M359.3 151.2H364.2M461 102H465.9M461 151.2H465.9M562.8 102H567.7M562.8 151.2H567.7M664.5 102H669.4M664.5 151.2H669.4M766.2 102H771.1M766.2 151.2H771.1M867.9 102H872.8M867.9 151.2H872.8M969.7 102H974.5M969.7 151.2H974.5M1071.4 102H1076.3M1071.4 151.2H1076.3M1173.1 102H1178M1173.1 151.2H1178M1274.8 102H1279.7M1274.8 151.2H1279.7M1376.5 102H1381.4M1376.5 151.2H1381.4M1478.3 102H1483.1M1478.3 151.2H1483.1M1580 102H1584.8M1580 151.2H1584.8M1681.7 102H1686.6M1681.7 151.2H1686.6M1783.4 102H1788.3M1783.4 151.2H1788.3"/>
<path transform="translate(0,208.5)" d="M257.6 102H262.5M257.6 151.2H262.5M359.3 102H364.2M359.3 151.2H364.2M461 102H465.9M461 151.2H465.9M562.8 102H567.7M562.8 151.2H567.7M664.5 102H669.4M664.5 151.2H669.4M766.2 102H771.1M766.2 151.2H771.1M867.9 102H872.8M867.9 151.2H872.8M969.7 102H974.5M969.7 151.2H974.5M1071.4 102H1076.3M1071.4 151.2H1076.3M1173.1 102H1178M1173.1 151.2H1178M1274.8 102H1279.7M1274.8 151.2H1279.7M1376.5 102H1381.4M1376.5 151.2H1381.4M1478.3 102H1483.1M1478.3 151.2H1483.1M1580 102H1584.8M1580 151.2H1584.8M1681.7 102H1686.6M1681.7 151.2H1686.6M1783.4 102H1788.3M1783.4 151.2H1788.3"/>
<path transform="translate(0,312.75)" d="M257.6 102H262.5M257.6 151.2H262.5M359.3 102H364.2M359.3 151.2H364.2M461 102H465.9M461 151.2H465.9M562.8 102H567.7M562.8 151.2H567.7M664.5 102H669.4M664.5 151.2H669.4M766.2 102H771.1M766.2 151.2H771.1M867.9 102H872.8M867.9 151.2H872.8M969.7 102H974.5M969.7 151.2H974.5M1071.4 102H1076.3M1071.4 151.2H1076.3M1173.1 102H1178M1173.1 151.2H1178M1274.8 102H1279.7M1274.8 151.2H1279.7M1376.5 102H1381.4M1376.5 151.2H1381.4M1478.3 102H1483.1M1478.3 151.2H1483.1M1580 102H1584.8M1580 151.2H1584.8M1681.7 102H1686.6M1681.7 151.2H1686.6M1783.4 102H1788.3M1783.4 151.2H1788.3"/>
<path transform="translate(0,417)" d="M257.6 102H262.5M257.6 151.2H262.5M359.3 102H364.2M359.3 151.2H364.2M461 102H465.9M461 151.2H465.9M562.8 102H567.7M562.8 151.2H567.7M664.5 102H669.4M664.5 151.2H669.4M766.2 102H771.1M766.2 151.2H771.1M867.9 102H872.8M867.9 151.2H872.8M969.7 102H974.5M969.7 151.2H974.5M1071.4 102H1076.3M1071.4 151.2H1076.3M1173.1 102H1178M1173.1 151.2H1178M1274.8 102H1279.7M1274.8 151.2H1279.7M1376.5 102H1381.4M1376.5 151.2H1381.4M1478.3 102H1483.1M1478.3 151.2H1483.1M1580 102H1584.8M1580 151.2H1584.8M1681.7 102H1686.6M1681.7 151.2H1686.6M1783.4 102H1788.3M1783.4 151.2H1788.3"/>
<path transform="translate(0,521.25)" d="M257.6 102H262.5M257.6 151.2H262.5M359.3 102H364.2M359.3 151.2H364.2M461 102H465.9M461 151.2H465.9M562.8 102H567.7M562.8 151.2H567.7M664.5 102H669.4M664.5 151.2H669.4M766.2 102H771.1M766.2 151.2H771.1M867.9 102H872.8M867.9 151.2H872.8M969.7 102H974.5M969.7 151.2H974.5M1071.4 102H1076.3M1071.4 151.2H1076.3M1173.1 102H1178M1173.1 151.2H1178M1274.8 102H1279.7M1274.8 151.2H1279.7M1376.5 102H1381.4M1376.5 151.2H1381.4M1478.3 102H1483.1M1478.3 151.2H1483.1M1580 102H1584.8M1580 151.2H1584.8M1681.7 102H1686.6M1681.7 151.2H1686.6M1783.4 102H1788.3M1783.4 151.2H1788.3"/>
</g>

<!-- y tick labels -->
<g font-size="12.5" text-anchor="end">
<text x="252.8" y="106.5">100</text><text x="252.8" y="155.7">50</text>
<text x="252.8" y="210.75">100</text><text x="252.8" y="259.95">50</text>
<text x="252.8" y="315">100</text><text x="252.8" y="364.2">50</text>
<text x="252.8" y="419.25">100</text><text x="252.8" y="468.45">50</text>
<text x="252.8" y="523.5">100</text><text x="252.8" y="572.7">50</text>
<text x="252.8" y="627.75">100</text><text x="252.8" y="676.95">50</text>
</g>

<!-- x tick labels -->
<g font-size="12.5" text-anchor="middle">
<text x="262.5" y="730">00</text><text x="364.22" y="730">15</text><text x="465.94" y="730">30</text><text x="567.66" y="730">45</text>
<text x="669.38" y="730">00</text><text x="771.09" y="730">15</text><text x="872.81" y="730">30</text><text x="974.53" y="730">45</text>
<text x="1076.25" y="730">00</text><text x="1177.97" y="730">15</text><text x="1279.69" y="730">30</text><text x="1381.41" y="730">45</text>
<text x="1483.13" y="730">00</text><text x="1584.84" y="730">15</text><text x="1686.56" y="730">30</text><text x="1788.28" y="730">45</text>
</g>

<!-- row labels -->
<g font-size="20.8">
<text x="1911.5" y="134.5">00-03UT</text>
<text x="1911.5" y="238.75">04-07UT</text>
<text x="1911.5" y="343">08-11UT</text>
<text x="1911.5" y="447.25">12-15UT</text>
<text x="1911.5" y="551.5">16-19UT</text>
<text x="1911.5" y="655.75">20-23UT</text>
</g>
</svg>
</body>
</html>
